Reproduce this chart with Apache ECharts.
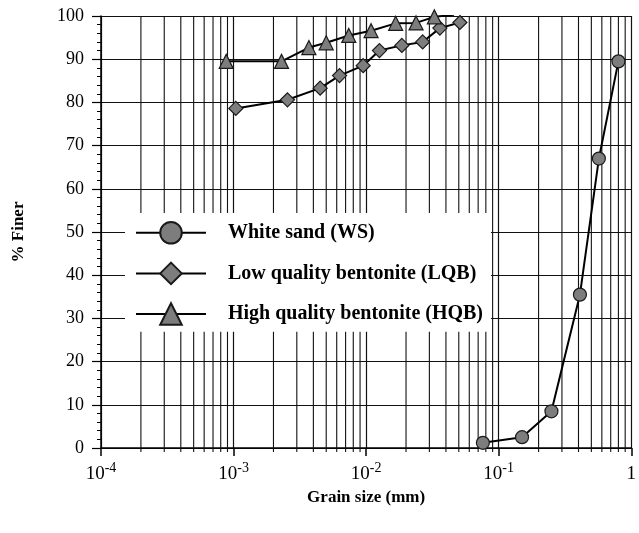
<!DOCTYPE html>
<html><head><meta charset="utf-8">
<script src="https://cdn.jsdelivr.net/npm/echarts@6/dist/echarts.min.js"></script>
<style>html,body{margin:0;padding:0;background:#fff}#c{width:639px;height:533px}</style>
</head><body><div id="c"></div>
<script>
// Data
const wsSize = [0.076, 0.15, 0.25, 0.41, 0.57, 0.80];
const wsFiner = [1.2, 2.5, 8.5, 35.5, 67, 89.5];
const lqbSize = [0.00104, 0.00255, 0.0045, 0.0063, 0.0095, 0.0126, 0.0186, 0.0267, 0.036, 0.051];
const lqbFiner = [78.6, 80.6, 83.3, 86.2, 88.5, 92, 93.2, 94, 97.2, 98.5];
const hqbSize = [0.00088, 0.0023, 0.0037, 0.005, 0.0074, 0.0109, 0.0167, 0.0238, 0.0327, 0.046];
const hqbFiner = [89.5, 89.5, 92.7, 93.8, 95.5, 96.6, 98.3, 98.4, 99.8, 100.3];
const seriesNames = ['White sand (WS)', 'Low quality bentonite (LQB)', 'High quality bentonite (HQB)'];
// Axis tick labels
const xTickBase = ['10', '10', '10', '10', '1'];
const xTickExp = ['-4', '-3', '-2', '-1', ''];
const yMin = 0, yMax = 100, yStep = 10;
const xMin = 1e-4, xMax = 1;
// minor log grid positions (2..9 in each decade)
const minorGrid = [];
for (let e = -4; e < 0; e++) for (let m = 2; m <= 9; m++) minorGrid.push([m * Math.pow(10, e), 0]);

const zip = (a, b) => a.map((v, i) => [v, b[i]]);
const serif = "'Liberation Serif','Times New Roman',serif";

const chart = echarts.init(document.getElementById('c'), null, {renderer: 'canvas'});
chart.setOption({
  animation: false,
  backgroundColor: '#fff',
  grid: {left: 101, right: 5, top: 16, bottom: 85},
  legend: {
    orient: 'vertical', left: 125, top: 213,
    data: seriesNames,
    itemWidth: 70, itemHeight: 27, itemGap: 17,
    backgroundColor: '#fff',
    padding: [8, 8, 6, 10],
    selectedMode: false,
    textStyle: {fontFamily: serif, fontWeight: 'bold', fontSize: 20, color: '#000', padding: [0, 0, 0, 17]}
  },
  xAxis: {
    type: 'log', logBase: 10, min: xMin, max: xMax,
    name: 'Grain size (mm)', nameLocation: 'middle', nameGap: 35,
    nameTextStyle: {fontFamily: serif, fontWeight: 'bold', fontSize: 17, color: '#000'},
    axisLine: {lineStyle: {color: '#000', width: 1.5}},
    axisTick: {show: true, length: 8, lineStyle: {color: '#000', width: 1.5}},
    minorTick: {show: false},
    splitLine: {show: true, lineStyle: {color: '#111', width: 1.2}},
    axisLabel: {
      margin: 12,
      formatter: function (v) {
        const i = Math.round(Math.log10(v)) + 4;
        return xTickExp[i] ? '{b|' + xTickBase[i] + '}{s|' + xTickExp[i] + '}' : '{b|' + xTickBase[i] + '}';
      },
      rich: {
        b: {fontFamily: serif, fontSize: 19, color: '#000', lineHeight: 24, verticalAlign: 'bottom'},
        s: {fontFamily: serif, fontSize: 14, color: '#000', lineHeight: 24, verticalAlign: 'bottom', padding: [0, 0, 9, 0]}
      }
    }
  },
  yAxis: {
    type: 'value', min: yMin, max: yMax, interval: yStep,
    name: '% Finer', nameLocation: 'middle', nameGap: 74,
    nameTextStyle: {fontFamily: serif, fontWeight: 'bold', fontSize: 17, color: '#000'},
    axisLine: {show: true, lineStyle: {color: '#000', width: 1.5}},
    axisTick: {show: true, length: 9, lineStyle: {color: '#000', width: 1.2}},
    minorTick: {show: true, splitNumber: 5, length: 4, lineStyle: {color: '#000', width: 1}},
    splitLine: {show: true, lineStyle: {color: '#111', width: 1.2}},
    axisLabel: {margin: 17, fontFamily: serif, fontSize: 18, color: '#000'}
  },
  series: [
    {
      type: 'custom', name: 'minorGrid', z: 1, silent: true,
      data: minorGrid,
      encode: {x: 0, y: 1},
      renderItem: function (params, api) {
        const x = api.value(0);
        const t = api.coord([x, yMax]);
        const b = api.coord([x, yMin]);
        return {type: 'line', shape: {x1: t[0], y1: t[1], x2: b[0], y2: b[1] + 4},
          style: {stroke: '#111', lineWidth: 1.1}};
      }
    },
    {
      name: seriesNames[0], type: 'line', z: 3, data: zip(wsSize, wsFiner),
      symbol: 'circle', symbolSize: 13,
      lineStyle: {color: '#000', width: 2},
      itemStyle: {color: '#7d7d7d', borderColor: '#1a1a1a', borderWidth: 1.2}
    },
    {
      name: seriesNames[1], type: 'line', z: 3, data: zip(lqbSize, lqbFiner),
      symbol: 'diamond', symbolSize: 14,
      lineStyle: {color: '#000', width: 2},
      itemStyle: {color: '#7d7d7d', borderColor: '#1a1a1a', borderWidth: 1.2}
    },
    {
      name: seriesNames[2], type: 'line', z: 3, data: zip(hqbSize, hqbFiner),
      symbol: 'triangle', symbolSize: 14,
      lineStyle: {color: '#000', width: 2},
      itemStyle: {color: '#7d7d7d', borderColor: '#1a1a1a', borderWidth: 1.2}
    }
  ]
});
</script>
</body></html>
